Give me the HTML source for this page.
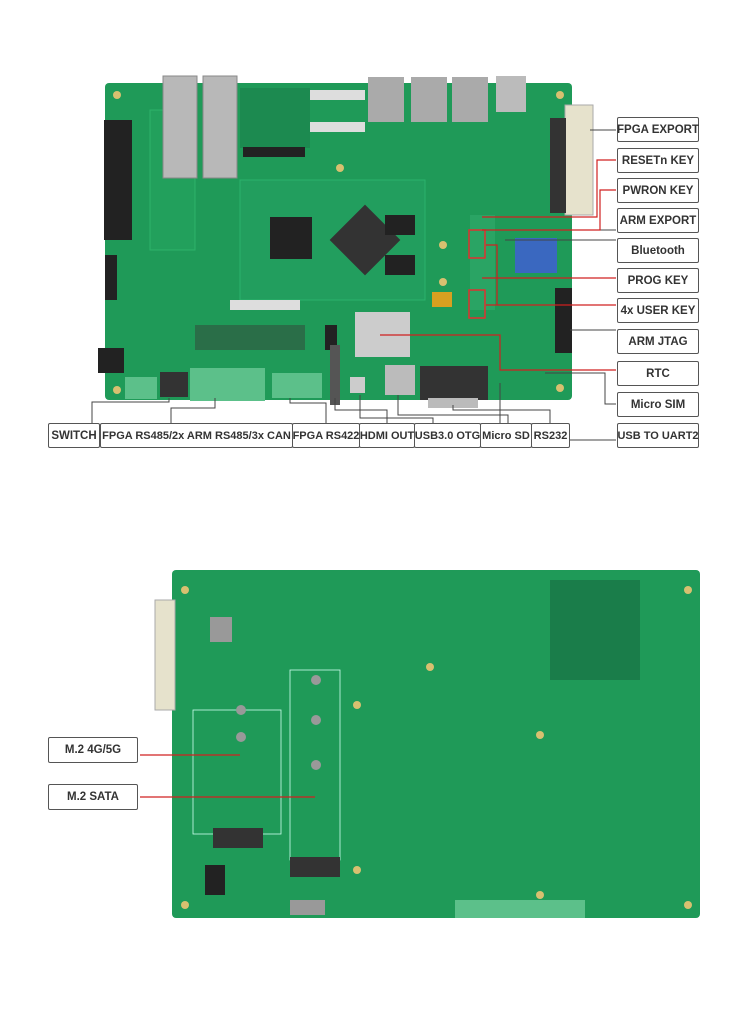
<!DOCTYPE html>
<html><head><meta charset="utf-8"><style>
body{margin:0;background:#fff;width:750px;height:1032px;position:relative;overflow:hidden;font-family:"Liberation Sans",sans-serif}
.a{position:absolute}
.lb{position:absolute;border:1px solid #555;border-radius:2px;background:#fff;font-weight:bold;font-size:11.5px;color:#333;display:flex;align-items:center;justify-content:center;box-sizing:border-box;white-space:nowrap}
</style></head><body>
<svg class="a" style="left:0;top:0" width="750" height="1032">
<!-- board 1 -->
<rect x="105" y="83" width="467" height="317" rx="4" fill="#1f9a58"/>
<rect x="150" y="110" width="45" height="140" fill="#22a05c" stroke="#2db36a"/>
<rect x="104" y="120" width="28" height="120" fill="#222"/>
<rect x="163" y="76" width="34" height="102" fill="#b8b8b8" stroke="#888"/>
<rect x="203" y="76" width="34" height="102" fill="#b8b8b8" stroke="#888"/>
<rect x="240" y="88" width="70" height="60" fill="#1c8a50"/>
<rect x="243" y="147" width="62" height="10" fill="#222"/>
<rect x="310" y="90" width="55" height="10" fill="#ddd"/>
<rect x="310" y="122" width="55" height="10" fill="#ddd"/>
<rect x="368" y="77" width="36" height="45" fill="#aaa"/>
<rect x="411" y="77" width="36" height="45" fill="#aaa"/>
<rect x="452" y="77" width="36" height="45" fill="#aaa"/>
<rect x="496" y="76" width="30" height="36" fill="#bbb"/>
<rect x="565" y="105" width="28" height="110" fill="#e6e2cc" stroke="#aaa"/>
<rect x="550" y="118" width="16" height="95" fill="#333"/>
<rect x="240" y="180" width="185" height="120" fill="#229e5e" stroke="#2bb36c"/>
<rect x="270" y="217" width="42" height="42" fill="#222"/>
<rect x="340" y="215" width="50" height="50" fill="#333" transform="rotate(45 365 240)"/>
<rect x="385" y="215" width="30" height="20" fill="#222"/>
<rect x="385" y="255" width="30" height="20" fill="#222"/>
<rect x="230" y="300" width="70" height="10" fill="#ddd"/>
<rect x="195" y="325" width="110" height="25" fill="#2a6e48"/>
<rect x="515" y="238" width="42" height="35" fill="#3a68c0"/>
<rect x="555" y="288" width="17" height="65" fill="#222"/>
<rect x="105" y="255" width="12" height="45" fill="#222"/>
<rect x="355" y="312" width="55" height="45" fill="#ccc"/>
<rect x="432" y="292" width="20" height="15" fill="#d8a020"/>
<rect x="420" y="366" width="68" height="34" fill="#333"/>
<rect x="428" y="398" width="50" height="10" fill="#bbb"/>
<rect x="385" y="365" width="30" height="30" fill="#bbb"/>
<rect x="350" y="377" width="15" height="16" fill="#ccc"/>
<rect x="325" y="325" width="12" height="25" fill="#222"/>
<rect x="330" y="345" width="10" height="60" fill="#555"/>
<rect x="125" y="377" width="32" height="22" fill="#5cc08a"/>
<rect x="190" y="368" width="75" height="33" fill="#5cc08a"/>
<rect x="272" y="373" width="50" height="25" fill="#5cc08a"/>
<rect x="160" y="372" width="28" height="25" fill="#333"/>
<rect x="98" y="348" width="26" height="25" fill="#222"/>
<rect x="470" y="215" width="25" height="95" fill="#2aa464"/>
<rect x="469" y="230" width="16" height="28" fill="none" stroke="#e03030" stroke-width="1.5"/>
<rect x="469" y="290" width="16" height="28" fill="none" stroke="#e03030" stroke-width="1.5"/>
<g fill="#d8c070"><circle cx="117" cy="95" r="4"/><circle cx="560" cy="95" r="4"/><circle cx="117" cy="390" r="4"/><circle cx="560" cy="388" r="4"/><circle cx="340" cy="168" r="4"/><circle cx="443" cy="245" r="4"/><circle cx="443" cy="282" r="4"/></g>
<!-- board 2 -->
<rect x="172" y="570" width="528" height="348" rx="4" fill="#1f9a58"/>
<rect x="155" y="600" width="20" height="110" fill="#e6e2cc" stroke="#aaa"/>
<rect x="210" y="617" width="22" height="25" fill="#999"/>
<rect x="193" y="710" width="88" height="124" fill="none" stroke="#cfe" stroke-width="0.8"/>
<rect x="290" y="670" width="50" height="190" fill="none" stroke="#cfe" stroke-width="0.8"/>
<rect x="550" y="580" width="90" height="100" fill="#1a7d4a"/>
<rect x="213" y="828" width="50" height="20" fill="#333"/>
<rect x="290" y="857" width="50" height="20" fill="#333"/>
<rect x="205" y="865" width="20" height="30" fill="#222"/>
<rect x="290" y="900" width="35" height="15" fill="#999"/>
<rect x="455" y="900" width="130" height="18" fill="#5cc08a"/>
<g fill="#d8c070"><circle cx="185" cy="590" r="4"/><circle cx="688" cy="590" r="4"/><circle cx="185" cy="905" r="4"/><circle cx="688" cy="905" r="4"/><circle cx="357" cy="705" r="4"/><circle cx="357" cy="870" r="4"/><circle cx="430" cy="667" r="4"/><circle cx="540" cy="735" r="4"/><circle cx="540" cy="895" r="4"/></g>
<g fill="#999"><circle cx="241" cy="710" r="5"/><circle cx="241" cy="737" r="5"/><circle cx="316" cy="680" r="5"/><circle cx="316" cy="720" r="5"/><circle cx="316" cy="765" r="5"/></g>
<!-- connectors -->
<g fill="none" stroke="#444" stroke-width="1">
<path d="M590 130H616M505 240H616M565 230H616M570 330H616M545 373 H605V404H616M500 383V440H616"/>
<path d="M169 398V402H92V423M215 398V408H171V423M290 398V403H326V423M335 398V410H387V423M360 395V418H433V423M398 395V415H508V423M453 405V410H550V423"/>
</g>
<g fill="none" stroke="#d02020" stroke-width="1.2">
<path d="M482 217H597V160H616M482 230H600V190H616M482 278H616M486 245H497V305H616M486 305H497M380 335H500V370H616M140 755H240M140 797H315"/>
</g>
</svg>
<div class="lb" style="left:617px;top:117px;width:82px;height:25px">FPGA EXPORT</div>
<div class="lb" style="left:617px;top:148px;width:82px;height:25px">RESETn KEY</div>
<div class="lb" style="left:617px;top:178px;width:82px;height:25px">PWRON KEY</div>
<div class="lb" style="left:617px;top:208px;width:82px;height:25px">ARM EXPORT</div>
<div class="lb" style="left:617px;top:238px;width:82px;height:25px">Bluetooth</div>
<div class="lb" style="left:617px;top:268px;width:82px;height:25px">PROG KEY</div>
<div class="lb" style="left:617px;top:298px;width:82px;height:25px">4x USER KEY</div>
<div class="lb" style="left:617px;top:329px;width:82px;height:25px">ARM JTAG</div>
<div class="lb" style="left:617px;top:361px;width:82px;height:25px">RTC</div>
<div class="lb" style="left:617px;top:392px;width:82px;height:25px">Micro SIM</div>
<div class="lb" style="left:617px;top:423px;width:82px;height:25px;font-size:11px">USB TO UART2</div>
<div class="lb" style="left:48px;top:423px;width:52px;height:25px">SWITCH</div>
<div class="lb" style="left:100px;top:423px;width:193px;height:25px;font-size:11px">FPGA RS485/2x ARM RS485/3x CAN</div>
<div class="lb" style="left:292px;top:423px;width:68px;height:25px;font-size:11px">FPGA RS422</div>
<div class="lb" style="left:359px;top:423px;width:56px;height:25px;font-size:11px">HDMI OUT</div>
<div class="lb" style="left:414px;top:423px;width:67px;height:25px;font-size:11px">USB3.0 OTG</div>
<div class="lb" style="left:480px;top:423px;width:52px;height:25px;font-size:11px">Micro SD</div>
<div class="lb" style="left:531px;top:423px;width:39px;height:25px;font-size:11px">RS232</div>
<div class="lb" style="left:48px;top:737px;width:90px;height:26px">M.2 4G/5G</div>
<div class="lb" style="left:48px;top:784px;width:90px;height:26px">M.2 SATA</div>
</body></html>
